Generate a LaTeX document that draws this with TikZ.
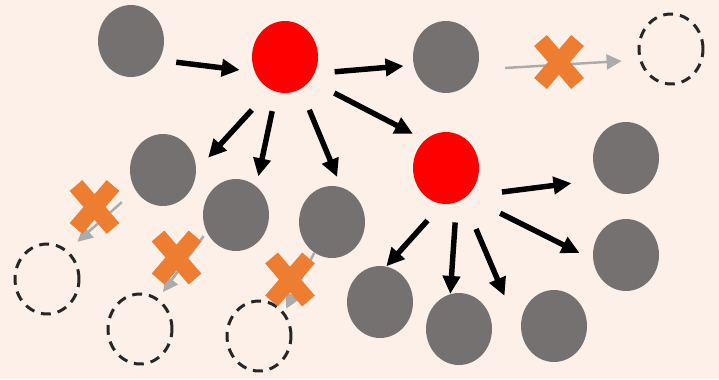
\documentclass[tikz,border=0pt]{standalone}
\usepackage{tikz}
\usetikzlibrary{arrows.meta,shapes.geometric,shapes.misc}
\definecolor{paper}{HTML}{FCF0E9}
\definecolor{stone}{HTML}{767171}
\definecolor{hotred}{HTML}{FF0000}
\definecolor{xorange}{HTML}{ED7D31}
\definecolor{fadegray}{HTML}{ABABAB}
\definecolor{ink}{HTML}{262626}
\tikzset{
  agent/.style={ellipse,inner sep=0pt,minimum width=1.32cm,minimum height=1.44cm},
  idle/.style={agent,fill=stone},
  active/.style={agent,fill=hotred},
  gone/.style={ellipse,draw=ink,line width=1.7pt,dash pattern=on 5.6pt off 4pt,
               inner sep=0pt,minimum width=1.28cm,minimum height=1.40cm},
  blocked/.style={cross out,draw=xorange,line width=9.5pt,inner sep=0pt,outer sep=0pt,
                  minimum width=0.74cm,minimum height=0.86cm},
  spread/.style={-{Triangle[length=0.36cm,width=0.34cm]},line width=3.1pt},
  fizzle/.style={-{Triangle[length=0.3cm,width=0.3cm]},line width=1.4pt,color=fadegray}
}

\begin{document}
\begin{tikzpicture}[x=0.02cm,y=-0.02cm]
  \fill[paper] (0,0) rectangle (719,379);
  \useasboundingbox (0,0) rectangle (719,379);

  % spreaders
  \node[active] (r1) at (285,57) {};
  \node[active] (r2) at (446,168) {};

  % reached
  \node[idle] (g1) at (131,41) {};
  \node[idle] (g2) at (446,57) {};
  \node[idle] (g3) at (163,170) {};
  \node[idle] (g4) at (236,215) {};
  \node[idle] (g5) at (332,222) {};
  \node[idle] (g6) at (626,158) {};
  \node[idle] (g7) at (626,255) {};
  \node[idle] (g8) at (380,302) {};
  \node[idle] (g9) at (459,329) {};
  \node[idle] (g10) at (554,326) {};

  % never reached
  \node[gone] (d1) at (671,49) {};
  \node[gone] (d2) at (47,279) {};
  \node[gone] (d3) at (140,329) {};
  \node[gone] (d4) at (259,336) {};

  \foreach \from/\to/\s/\e in {g1.-34/r1.206.4/0.34/0.3, r1.-29.5/g2.194.2/0.4/0.2,
      r1.-43.2/r2.127/0.54/0.27, r1.246.3/g3.-1.7/0.55/0.35, r1.256/g4.55.5/0.39/0.2,
      r1.-64.8/g5.75/0.45/0.22, r2.-54.8/g6.219.6/0.71/0.56, r2.-54/g7.188.2/0.75/0.3,
      r2.264.6/g8.80.3/0.44/0, r2.-73.1/g9.104.8/0.4/0, r2.-61.3/g10.201/0.65/0.92} {
    \draw[spread,shorten <=\s cm,shorten >=\e cm] (\from) -- (\to);
  }

  \foreach \from/\to/\s/\e in {g2.-22.3/d1.199.2/0.56/0.35, g3.216/d2.54.5/0.36/0.26,
      g4.210/d3.59/0.1/0.16, g5.240/d4.43/0/0.08} {
    \draw[fizzle,shorten <=\s cm,shorten >=\e cm] (\from) -- (\to);
  }

  \node[blocked] (x1) at (559,62) {};
  \node[blocked] (x2) at (94.5,207) {};
  \node[blocked] (x3) at (176.5,257.5) {};
  \node[blocked] (x4) at (290,279.5) {};
\end{tikzpicture}
\end{document}
